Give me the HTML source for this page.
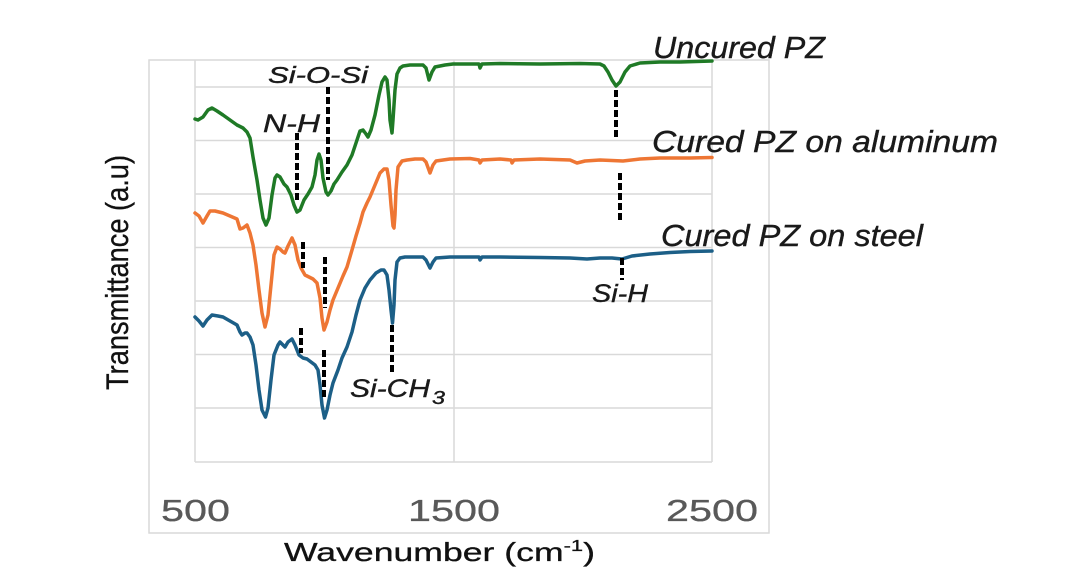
<!DOCTYPE html>
<html><head><meta charset="utf-8"><style>
html,body{margin:0;padding:0;background:#fff;}
svg{display:block;}
text{font-family:"Liberation Sans",Arial,sans-serif;}
</style></head><body>
<svg width="1068" height="580" viewBox="0 0 1068 580" xmlns="http://www.w3.org/2000/svg">
<rect x="0" y="0" width="1068" height="580" fill="#fff"/>
<!-- outer box -->
<rect x="149" y="60" width="620" height="473" fill="none" stroke="#d9d9d9" stroke-width="1.5"/>
<!-- grid -->
<g stroke="#d9d9d9" stroke-width="1.5" fill="none">
<line x1="195" y1="87" x2="712" y2="87"/>
<line x1="195" y1="140.5" x2="712" y2="140.5"/>
<line x1="195" y1="194" x2="712" y2="194"/>
<line x1="195" y1="247.5" x2="712" y2="247.5"/>
<line x1="195" y1="301" x2="712" y2="301"/>
<line x1="195" y1="354.5" x2="712" y2="354.5"/>
<line x1="195" y1="408" x2="712" y2="408"/>
<line x1="195" y1="462" x2="712" y2="462"/>
<line x1="195" y1="60" x2="195" y2="462"/>
<line x1="454" y1="60" x2="454" y2="462"/>
<line x1="712" y1="60" x2="712" y2="462"/>
</g>
<!-- series -->
<g fill="none" stroke-width="3.5" stroke-linejoin="round" stroke-linecap="round">
<polyline stroke="#1f7a26" points="195,119 198,120 203,117 208,110 212,108 217,111 223,115 230,120 237,125 243,128 247,132 250,138 253,157 257,180 260,200 263,218 266,225 269,218 272,195 275,178 277,175 280,177 284,184 287,187 291,195 294,205 297,212 300,210 304,200 308,194 312,187 315,175 317,160 319,154 321,160 323,178 326,192 328,195 331,191 334,184 337,180 342,172 347,165 352,155 356,143 360,131 363,130 366,134 368,137 371,130 375,115 379,95 382,82 385,77 387,80 389,100 390,120 392,133 393,120 395,90 397,74 400,68 403,66 410,65 423,65 426,68 429,80 432,72 435,67 445,65 453,64 470,64 479,64 480,68 482,64 500,63.5 540,64 580,63.5 600,64 604,66 608,72 612,80 616,86 620,82 625,72 630,66 640,63 660,62 680,62 712,61"/>
<polyline stroke="#ee7634" points="195,213 199,216 203,223 207,216 210,211 215,211 223,213 230,216 237,219 240,229 243,228 247,225 250,233 253,245 256,265 259,290 262,313 265,327 268,315 271,285 274,255 277,247 280,249 283,252 285,253 288,246 292,238 295,245 298,260 301,268 305,275 309,277 313,279 317,283 320,298 322,318 324,330 327,322 330,310 333,300 338,288 343,276 347,267 352,250 356,236 360,223 363,212 367,203 370,197 375,185 380,173 384,169 387,169 389,180 391,205 393,226 394,228 395,215 396,190 398,167 402,161 407,160 415,159 423,159 426,162 430,173 433,165 436,161 450,159 470,158.5 479,160 480,163 482,160 500,159 511,160 512,163 514,160 540,159 570,160 577,163 585,161 600,160 623,161 640,159 660,158 690,158 712,157.5"/>
<polyline stroke="#1c5f87" points="195,317 199,321 203,326 207,320 212,315 218,316 223,317 230,321 237,325 240,332 242,335 245,333 247,333 250,337 253,345 256,365 259,390 262,410 265.5,417 268,408 271,380 274,355 278,345 280,342 283,345 285,347 288,342 292,339 295,345 299,355 303,358 307,359 311,362 315,365 318,370 320,385 322,405 324.5,418 327,410 330,395 333,383 338,370 342,358 347,347 352,332 356,315 360,300 365,288 370,280 376,273 381,270 384,270 387,275 389,290 391,310 392.5,323 394,305 395,280 397,262 400,258 405,257 415,257 423,257 426,260 430,268 433,262 436,258 450,257 470,257 479,257 480,260 482,257 500,257 540,257.5 570,258 587,259 600,258 612,258 622,259 632,256 650,254 670,252.5 690,251.5 712,251"/>
</g>
<!-- dashed markers -->
<g stroke="#000" stroke-width="4" stroke-dasharray="7 3" fill="none">
<line x1="297" y1="133" x2="297" y2="202"/>
<line x1="328" y1="87" x2="328" y2="180"/>
<line x1="303" y1="242" x2="303" y2="268"/>
<line x1="325" y1="257" x2="325" y2="308"/>
<line x1="301" y1="328" x2="301" y2="353"/>
<line x1="324" y1="350" x2="324" y2="400"/>
<line x1="392" y1="325" x2="392" y2="375"/>
<line x1="616" y1="90" x2="616" y2="138"/>
<line x1="620" y1="173" x2="620" y2="222"/>
<line x1="622" y1="258" x2="622" y2="280"/>
</g>
<!-- annotation labels -->
<g fill="#1a1a1a" font-style="italic" stroke="#1a1a1a" stroke-width="0.4">
<text x="653" y="58" font-size="31" textLength="172" lengthAdjust="spacingAndGlyphs">Uncured PZ</text>
<text x="652" y="152" font-size="31" textLength="346" lengthAdjust="spacingAndGlyphs">Cured PZ on aluminum</text>
<text x="661" y="246" font-size="31" textLength="262" lengthAdjust="spacingAndGlyphs">Cured PZ on steel</text>
<text x="268" y="83" font-size="23" textLength="100" lengthAdjust="spacingAndGlyphs">Si-O-Si</text>
<text x="263" y="132" font-size="25" textLength="57" lengthAdjust="spacingAndGlyphs">N-H</text>
<text x="350" y="397" font-size="25" textLength="80" lengthAdjust="spacingAndGlyphs">Si-CH</text>
<text x="432" y="404" font-size="18" textLength="13" lengthAdjust="spacingAndGlyphs">3</text>
<text x="592" y="302" font-size="25" textLength="56" lengthAdjust="spacingAndGlyphs">Si-H</text>
</g>
<!-- tick labels -->
<g fill="#595959" font-size="31" text-anchor="middle" stroke="#595959" stroke-width="0.3">
<text x="195.5" y="521" textLength="69" lengthAdjust="spacingAndGlyphs">500</text>
<text x="454" y="521" textLength="92" lengthAdjust="spacingAndGlyphs">1500</text>
<text x="712" y="521" textLength="92" lengthAdjust="spacingAndGlyphs">2500</text>
</g>
<!-- axis titles -->
<text x="284" y="561" font-size="26" fill="#111" stroke="#111" stroke-width="0.3" textLength="311" lengthAdjust="spacingAndGlyphs">Wavenumber (cm<tspan font-size="16" dy="-10">-1</tspan><tspan dy="10">)</tspan></text>
<text transform="translate(128,272.5) scale(1.12,1) rotate(-90)" text-anchor="middle" font-size="28" fill="#111" stroke="#111" stroke-width="0.3" textLength="235" lengthAdjust="spacingAndGlyphs">Transmittance (a.u)</text>
</svg>
</body></html>
